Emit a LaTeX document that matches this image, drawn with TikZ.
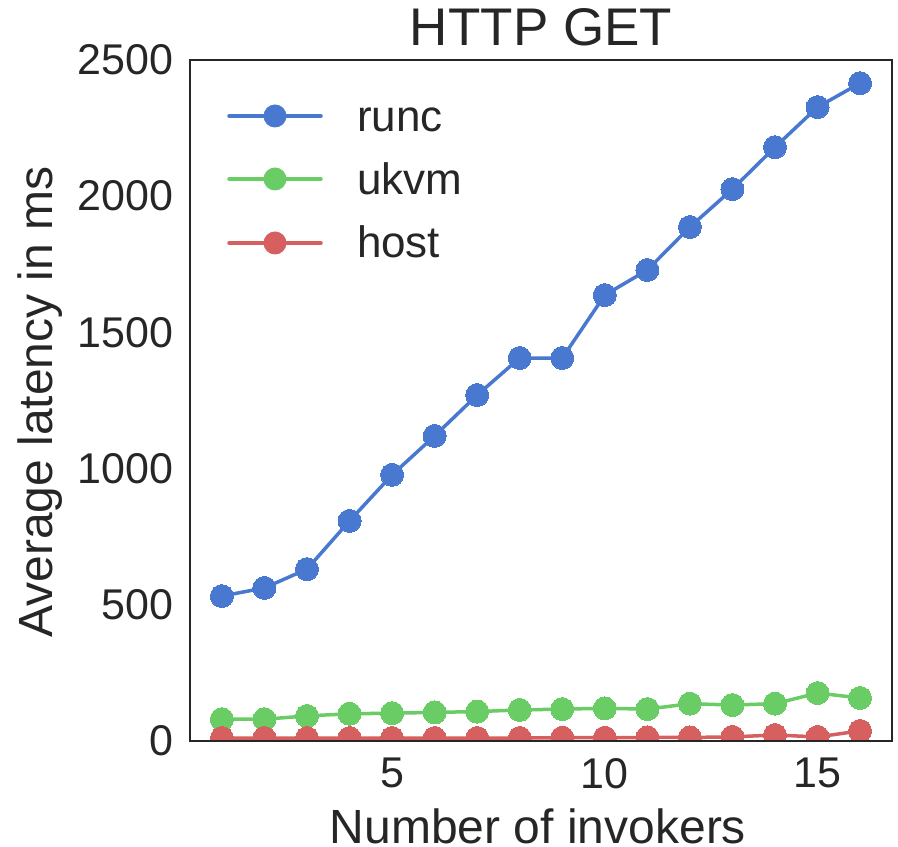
\documentclass[tikz,border=0pt]{standalone}
\usepackage{fontspec}
\setmainfont{Liberation Sans}
\definecolor{ink}{HTML}{262626}
\definecolor{runcc}{HTML}{4878CF}
\definecolor{ukvmc}{HTML}{6ACC65}
\definecolor{hostc}{HTML}{D65F5F}
\begin{document}
\begin{tikzpicture}[
  x=1pt, y=1pt,
  every node/.style={inner sep=0pt, outer sep=0pt, text=ink},
  ticklab/.style={font=\fontsize{43}{43}\selectfont},
  axlab/.style={font=\fontsize{48}{48}\selectfont},
  leglab/.style={font=\fontsize{44}{44}\selectfont, anchor=base west},
  curve/.style={line width=3.5pt, line join=round, line cap=round, color=#1},
  series/.style={curve=#1,
    mark=*, mark size=11.5pt, mark options={fill=#1, draw=#1, line width=0pt}},
]
\useasboundingbox (0,0) rectangle (898,847);

% axes area: x from 190 to 892, y from 106 to 787
\coordinate (ll) at (190,106);
\coordinate (ur) at (892,787);

% data, clipped to the axes
\begin{scope}
  \clip (ll) rectangle (ur);
  \begin{scope}[x=42.545pt, y=0.2724pt, shift={(179.36pt,106pt)}]
    \draw[series=runcc] plot coordinates {(1,532) (2,562) (3,631) (4,808) (5,977) (6,1120) (7,1270) (8,1406) (9,1406) (10,1637) (11,1729) (12,1887) (13,2026) (14,2180) (15,2327) (16,2415)};
    \draw[series=ukvmc] plot coordinates {(1,80) (2,80) (3,92) (4,100) (5,102) (6,105) (7,108) (8,114) (9,117) (10,120) (11,117) (12,137) (13,132) (14,137) (15,176) (16,158)};
    \draw[series=hostc] plot coordinates {(1,11) (2,11) (3,11) (4,11) (5,11) (6,11) (7,11) (8,11) (9,12) (10,12) (11,13) (12,13) (13,15) (14,22) (15,15) (16,37)};
  \end{scope}
\end{scope}

% frame
\draw[ink, line width=2.5pt] (ll) rectangle (ur);

% y tick labels
\foreach \v in {0,500,1000,1500,2000,2500}
  \node[ticklab, anchor=east] (yt\v) at (173, 106+\v*0.2724) {\v};
% x tick labels
\foreach \d in {5,10,15}
  \node[ticklab, anchor=north] (xt\d) at (179.36+\d*42.545, 89) {\d};

% title and axis labels
\node[font=\fontsize{53}{53}\selectfont, anchor=base] (title) at (541,801) {HTTP GET};
\node[axlab, anchor=base] (xlab) at (538,3) {Number of invokers};
\node[axlab, anchor=base, rotate=90] (ylab) at (52,445) {Average latency in ms};

% legend: a line with one marker in its middle, then the label
\coordinate (l1a) at (229,731); \coordinate (l1m) at (275,731); \coordinate (l1b) at (321,731);
\coordinate (l2a) at (229,668); \coordinate (l2m) at (275,668); \coordinate (l2b) at (321,668);
\coordinate (l3a) at (229,604); \coordinate (l3m) at (275,604); \coordinate (l3b) at (321,604);
\draw[curve=runcc] (l1a) -- (l1b);
\fill[runcc] (l1m) circle[radius=11.5pt];
\draw[curve=ukvmc] (l2a) -- (l2b);
\fill[ukvmc] (l2m) circle[radius=11.5pt];
\draw[curve=hostc] (l3a) -- (l3b);
\fill[hostc] (l3m) circle[radius=11.5pt];
\node[leglab] (leg1) at (357,715) {runc};
\node[leglab] (leg2) at (357,652) {ukvm};
\node[leglab] (leg3) at (357,589) {host};
\end{tikzpicture}
\end{document}
